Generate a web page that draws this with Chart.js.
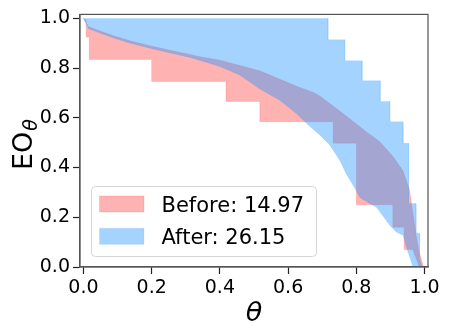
<!DOCTYPE html>
<html>
<head>
<meta charset="utf-8">
<script src="https://cdn.jsdelivr.net/npm/chart.js@4.4.1/dist/chart.umd.min.js"></script>
<style>
html, body { margin: 0; padding: 0; background: #fff; }
#wrap { width: 449px; height: 336px; }
</style>
</head>
<body>
<div id="wrap"><canvas id="chart" width="449" height="336"></canvas></div>
<script>
// 数据: 每条曲线 (x, y)
const beforeLabel = 'Before: 14.97';
const afterLabel = 'After: 26.15';

const beforeUpperX = [0, 0.015, 0.039, 0.088, 0.137, 0.195, 0.254, 0.312, 0.342, 0.4, 0.459, 0.517, 0.576, 0.634, 0.673, 0.693, 0.732, 0.78, 0.829, 0.868, 0.907, 0.937, 0.956, 0.966, 0.976, 0.985, 0.997];
const beforeUpperY = [1.0, 0.967, 0.954, 0.93, 0.91, 0.89, 0.872, 0.855, 0.846, 0.832, 0.81, 0.789, 0.755, 0.722, 0.703, 0.688, 0.648, 0.597, 0.544, 0.505, 0.445, 0.386, 0.31, 0.215, 0.121, 0.056, 0.0];
const beforeLowerX = [0, 0.008, 0.008, 0.017, 0.017, 0.2, 0.2, 0.418, 0.418, 0.517, 0.517, 0.732, 0.732, 0.8, 0.8, 0.907, 0.907, 0.94, 0.94, 0.965, 0.985];
const beforeLowerY = [1.0, 0.993, 0.925, 0.925, 0.835, 0.835, 0.746, 0.746, 0.666, 0.666, 0.584, 0.584, 0.498, 0.498, 0.25, 0.25, 0.16, 0.16, 0.07, 0.07, 0.0];

const afterUpperX = [0, 0.717, 0.717, 0.766, 0.766, 0.817, 0.817, 0.87, 0.87, 0.898, 0.898, 0.937, 0.937, 0.953, 0.953, 0.975, 0.975, 0.985, 0.985, 0.993];
const afterUpperY = [1.0, 1.0, 0.914, 0.914, 0.83, 0.83, 0.749, 0.749, 0.666, 0.666, 0.584, 0.584, 0.498, 0.498, 0.255, 0.255, 0.136, 0.136, 0.04, 0.0];
const afterLowerX = [0, 0.015, 0.04, 0.088, 0.137, 0.195, 0.254, 0.312, 0.342, 0.4, 0.459, 0.517, 0.576, 0.624, 0.649, 0.663, 0.693, 0.722, 0.751, 0.771, 0.795, 0.81, 0.839, 0.859, 0.878, 0.898, 0.917, 0.937, 0.946, 0.956, 0.966];
const afterLowerY = [1.0, 0.958, 0.945, 0.921, 0.9, 0.88, 0.861, 0.843, 0.831, 0.806, 0.771, 0.716, 0.67, 0.617, 0.584, 0.566, 0.531, 0.491, 0.43, 0.373, 0.319, 0.28, 0.255, 0.24, 0.205, 0.168, 0.141, 0.128, 0.082, 0.042, 0.0];

const xTicks = [0, 0.2, 0.4, 0.6, 0.8, 1.0];
const yTicks = [0, 0.2, 0.4, 0.6, 0.8, 1.0];
const xTitle = 'θ';
const yTitle = 'EO';
const yTitleSub = 'θ';

// 上沿正向 + 下沿反向 => 闭合区域
function band(ux, uy, lx, ly) {
    const pts = ux.map((x, i) => ({x: x, y: uy[i]}));
    for (let i = lx.length - 1; i >= 0; i--) pts.push({x: lx[i], y: ly[i]});
    return pts;
}

const FONT = 'DejaVu Sans';

const decorPlugin = {
    id: 'decor',
    afterDraw(chart) {
        const ctx = chart.ctx;
        const a = chart.chartArea;
        ctx.save();
        // 四周边框
        ctx.strokeStyle = '#555';
        ctx.lineWidth = 1.2;
        ctx.strokeRect(a.left, a.top, a.right - a.left, a.bottom - a.top);

        // x 轴标题
        ctx.fillStyle = '#000';
        ctx.font = 'italic 27px "' + FONT + '"';
        ctx.textAlign = 'center';
        ctx.textBaseline = 'alphabetic';
        ctx.fillText(xTitle, (a.left + a.right) / 2, 321);

        // y 轴标题 (带下标)
        ctx.save();
        ctx.translate(32, 170);
        ctx.rotate(-Math.PI / 2);
        ctx.textAlign = 'left';
        ctx.font = '27px "' + FONT + '"';
        ctx.fillText(yTitle, 0, 0);
        const w = ctx.measureText(yTitle).width;
        ctx.font = 'italic 19px "' + FONT + '"';
        ctx.fillText(yTitleSub, w + 1, 5);
        ctx.restore();

        // 图例
        const lx = 91.5, ly = 186.5, lw = 225, lh = 70;
        ctx.fillStyle = 'rgba(255,255,255,0.8)';
        ctx.strokeStyle = '#d6d6d6';
        ctx.lineWidth = 1;
        ctx.beginPath();
        ctx.roundRect(lx, ly, lw, lh, 4);
        ctx.fill();
        ctx.stroke();
        ctx.font = '21px "' + FONT + '"';
        ctx.textAlign = 'left';
        chart.data.datasets.forEach((ds, i) => {
            const sy = 196 + i * 32.3;
            ctx.fillStyle = '#fff';
            ctx.fillRect(99.5, sy, 44.5, 16);
            ctx.fillStyle = ds.backgroundColor;
            ctx.fillRect(99.5, sy, 44.5, 16);
            ctx.strokeStyle = ds.borderColor;
            ctx.strokeRect(99.5, sy, 44.5, 16);
            ctx.fillStyle = '#000';
            ctx.fillText(ds.label, 161.5, sy + 15.7);
        });
        ctx.restore();
    }
};

const axisCommon = {
    type: 'linear',
    grid: { drawOnChartArea: false, drawTicks: true, tickLength: 7, tickColor: '#222', tickWidth: 1.2 },
    border: { display: true, color: '#555', width: 1.2 },
    ticks: {
        font: { family: FONT, size: 19 },
        color: '#000',
        padding: 3,
        autoSkip: false,
        maxRotation: 0,
        callback: v => Number(v).toFixed(1)
    }
};

new Chart(document.getElementById('chart').getContext('2d'), {
    type: 'scatter',
    data: {
        datasets: [
            {
                label: beforeLabel,
                data: band(beforeUpperX, beforeUpperY, beforeLowerX, beforeLowerY),
                showLine: true,
                fill: 'shape',
                backgroundColor: 'rgba(255,0,0,0.3)',
                borderColor: 'rgba(255,0,0,0.12)',
                borderWidth: 1,
                pointRadius: 0,
                tension: 0,
                order: 2
            },
            {
                label: afterLabel,
                data: band(afterUpperX, afterUpperY, afterLowerX, afterLowerY),
                showLine: true,
                fill: 'shape',
                backgroundColor: 'rgba(30,144,255,0.4)',
                borderColor: 'rgba(30,144,255,0.12)',
                borderWidth: 1,
                pointRadius: 0,
                tension: 0,
                order: 1
            }
        ]
    },
    options: {
        responsive: false,
        animation: false,
        layout: { padding: { top: 11, right: 21, left: 0, bottom: 0 } },
        plugins: {
            legend: { display: false },
            tooltip: { enabled: false }
        },
        scales: {
            x: Object.assign({}, axisCommon, {
                min: -0.01, max: 1.01,
                afterBuildTicks: s => { s.ticks = xTicks.map(v => ({value: v})); },
                afterFit: s => { s.height = 69; }
            }),
            y: Object.assign({}, axisCommon, {
                min: 0, max: 1.016,
                afterBuildTicks: s => { s.ticks = yTicks.map(v => ({value: v})); },
                afterFit: s => { s.width = 80; }
            })
        }
    },
    plugins: [decorPlugin]
});
</script>
</body>
</html>
